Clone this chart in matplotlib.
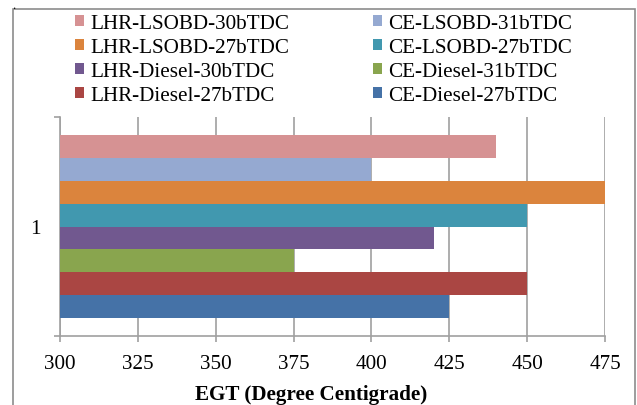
import matplotlib
matplotlib.use("Agg")
import matplotlib.pyplot as plt
from matplotlib.patches import Patch, Rectangle

plt.rcParams["font.family"] = ["Liberation Serif", "DejaVu Serif"]

# Exhaust gas temperature per engine configuration (single category "1")
series = ["LHR-LSOBD-30bTDC", "CE-LSOBD-31bTDC",
          "LHR-LSOBD-27bTDC", "CE-LSOBD-27bTDC",
          "LHR-Diesel-30bTDC", "CE-Diesel-31bTDC",
          "LHR-Diesel-27bTDC", "CE-Diesel-27bTDC"]
egt = [440, 400, 475, 450, 420, 375, 450, 425]
colors = ["#D69293", "#95A9D1", "#DB843D", "#4198AF",
          "#71588F", "#89A54E", "#AA4643", "#4572A7"]
category = ["1"]
xticks = [300, 325, 350, 375, 400, 425, 450, 475]

W, H = 637, 406
FS = 15.25
fig = plt.figure(figsize=(W / 100, H / 100), dpi=100)

# chart-area border
fig.add_artist(Rectangle((13 / W, -0.05), (635 - 13) / W, 1.05 - 10 / H,
                         transform=fig.transFigure, fill=False,
                         edgecolor="#8C8C8C", linewidth=1.2))
fig.text(12 / W, 1.0, ".", fontsize=9, ha="left", va="top")

ax = fig.add_axes([60 / W, 1 - 337 / H, (605 - 60) / W, (337 - 118) / H])

n = len(series)
h = 0.84 / n
ypos = [(n / 2 - 0.5 - i) * h for i in range(n)]
handles = []
for y, v, c, s in zip(ypos, egt, colors, series):
    ax.barh(y, v, height=h, color=c, zorder=3)
    handles.append(Patch(facecolor=c, edgecolor="none", label=s))

ax.set_xlim(xticks[0], xticks[-1])
ax.set_ylim(-0.5, 0.5)
ax.set_xticks(xticks)
ax.set_yticks([0])
ax.set_yticklabels(category)
ax.set_yticks([-0.5, 0.5], minor=True)

grid_c = "#A0A0A0"
ax.xaxis.grid(True, color=grid_c, linewidth=1.2, zorder=0)
ax.set_axisbelow(True)
for side in ("top", "right"):
    ax.spines[side].set_visible(False)
for side in ("left", "bottom"):
    ax.spines[side].set_color(grid_c)
    ax.spines[side].set_linewidth(1.2)

ax.tick_params(axis="x", which="major", direction="out", length=4.5,
               width=1.2, color=grid_c, labelsize=FS, pad=8.2)
ax.tick_params(axis="y", which="major", length=0, labelsize=FS, pad=14.2)
ax.tick_params(axis="y", which="minor", direction="out", length=4.5,
               width=1.2, color=grid_c)

fig.text(311 / W, 1 - 400 / H, "EGT (Degree Centigrade)", fontsize=FS,
         fontweight="bold", ha="center", va="baseline")

order = [0, 2, 4, 6, 1, 3, 5, 7]
fig.legend([handles[i] for i in order], [series[i] for i in order],
           ncol=2, loc="upper left", bbox_to_anchor=(75 / W, 1 - 15.5 / H),
           frameon=False, fontsize=FS, handlelength=0.42, handleheight=0.42,
           handletextpad=0.32, columnspacing=3.93, labelspacing=0.23,
           borderpad=0, borderaxespad=0)

fig.savefig("out.png", dpi=100)
